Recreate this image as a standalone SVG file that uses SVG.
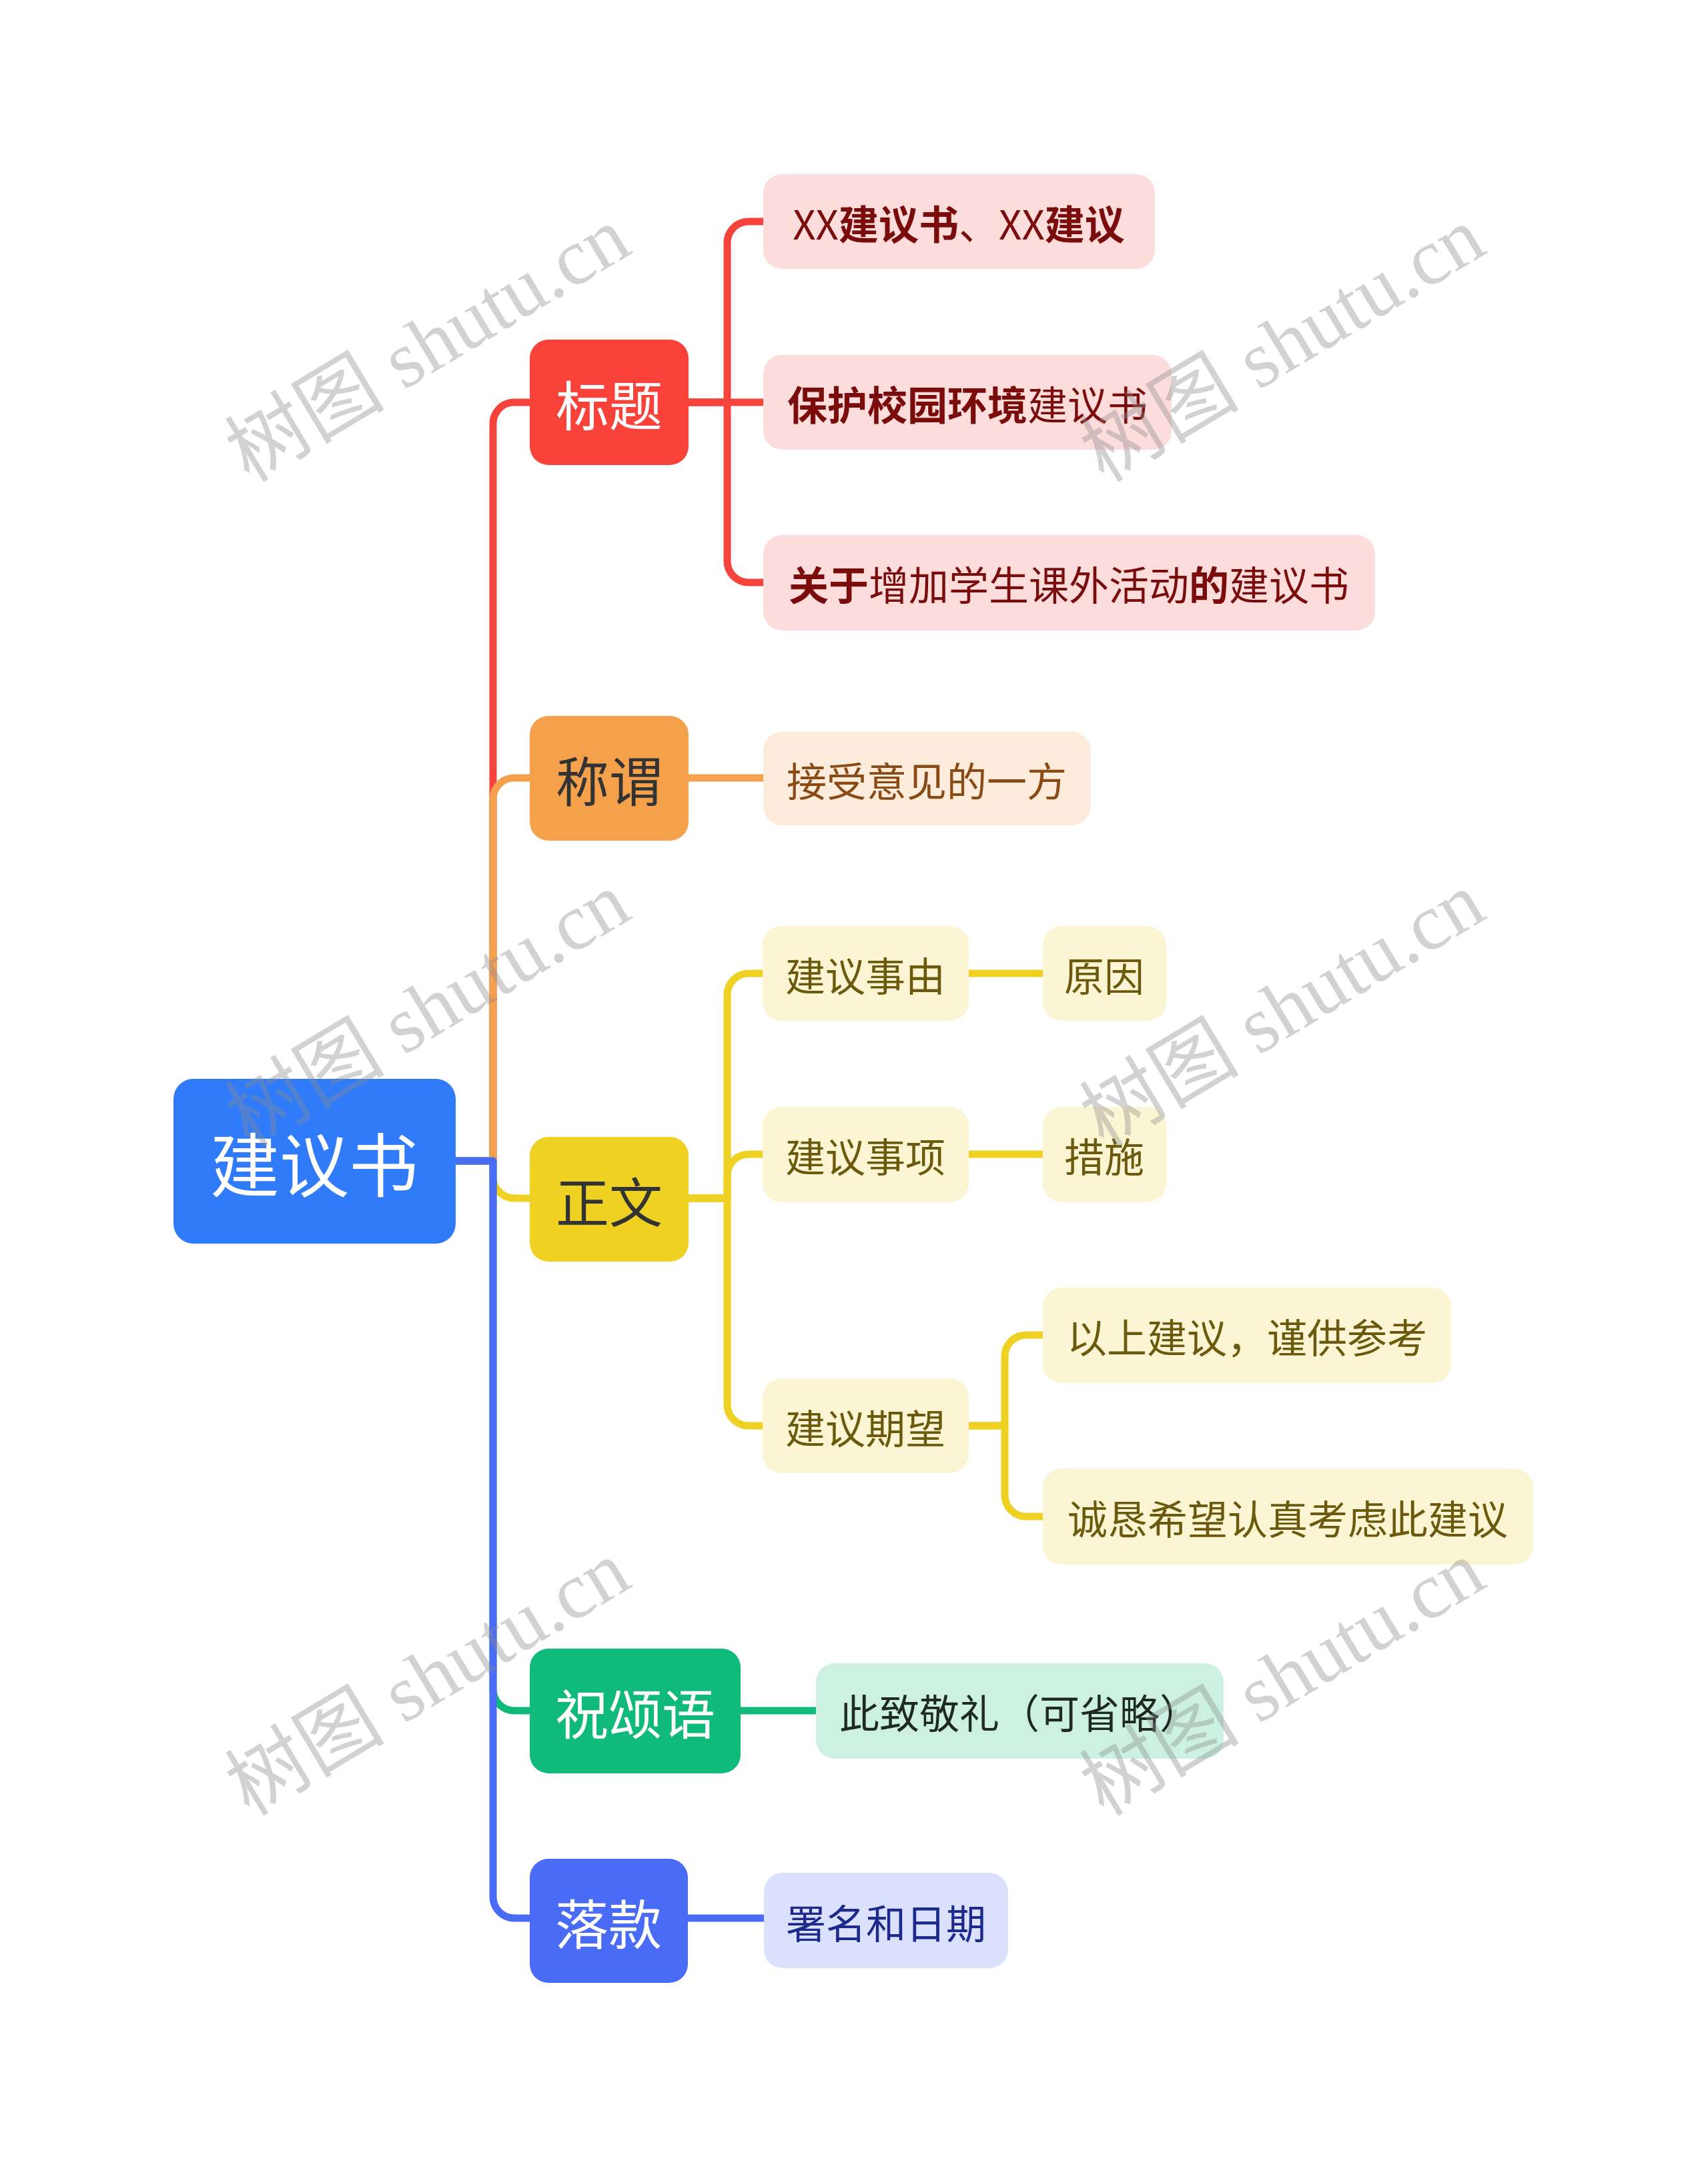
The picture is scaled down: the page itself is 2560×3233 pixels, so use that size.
<svg xmlns="http://www.w3.org/2000/svg" width="2560" height="3233" viewBox="0 0 2560 3233">
<style>
text{font-family:"Noto Sans CJK SC","Noto Sans",sans-serif;text-anchor:middle;dominant-baseline:central}
.l1{font-size:80px}
.l2{font-size:60px}
.b{font-weight:bold}
.ln{fill:none;stroke-width:11;stroke-linejoin:round}
.wm{font-family:"Liberation Serif","Noto Sans CJK SC",serif;font-size:120px;fill:#8c8c8c;opacity:0.38;text-anchor:middle;dominant-baseline:alphabetic}
</style>
<rect width="2560" height="3233" fill="#ffffff"/>
<g id="connectors">
<path class="ln" stroke="#F6433B" d="M683,1740 H739 V635 A32,32 0 0 1 771,603 H794"/>
<path class="ln" stroke="#F4A04D" d="M683,1740 H739 V1198 A32,32 0 0 1 771,1166 H794"/>
<path class="ln" stroke="#EFD124" d="M683,1740 H739 V1764 A32,32 0 0 0 771,1796 H794"/>
<path class="ln" stroke="#10BA7B" d="M683,1740 H739 V2532 A32,32 0 0 0 771,2564 H794"/>
<path class="ln" stroke="#4A6BF5" d="M683,1740 H739 V2843 A32,32 0 0 0 771,2875 H794"/>
<path class="ln" stroke="#F6433B" d="M1032,603 H1090 V364 A32,32 0 0 1 1122,332 H1144"/>
<path class="ln" stroke="#F6433B" d="M1032,603 H1144"/>
<path class="ln" stroke="#F6433B" d="M1032,603 H1090 V841 A32,32 0 0 0 1122,873 H1144"/>
<path class="ln" stroke="#F4A04D" d="M1032,1166 H1144"/>
<path class="ln" stroke="#EFD124" d="M1032,1796 H1090 V1491 A32,32 0 0 1 1122,1459 H1144"/>
<path class="ln" stroke="#EFD124" d="M1032,1796 H1090 V1762 A32,32 0 0 1 1122,1730 H1144"/>
<path class="ln" stroke="#EFD124" d="M1032,1796 H1090 V2105 A32,32 0 0 0 1122,2137 H1144"/>
<path class="ln" stroke="#EFD124" d="M1452,1459 H1563"/>
<path class="ln" stroke="#EFD124" d="M1452,1730 H1563"/>
<path class="ln" stroke="#EFD124" d="M1452,2137 H1506 V2033 A32,32 0 0 1 1538,2001 H1563"/>
<path class="ln" stroke="#EFD124" d="M1452,2137 H1506 V2241 A32,32 0 0 0 1538,2273 H1563"/>
<path class="ln" stroke="#10BA7B" d="M1110,2564 H1223"/>
<path class="ln" stroke="#4A6BF5" d="M1031,2875 H1145"/>
</g>
<g id="root">
<rect x="260" y="1617" width="423" height="247" rx="30" fill="#2F7BFA"/>
<text x="471" y="1740" font-size="104" fill="#ffffff">建议书</text>
</g>
<g id="biaoti">
<rect x="794" y="509" width="238" height="188" rx="28" fill="#F8423A"/>
<text class="l1" x="913" y="603" fill="#ffffff">标题</text>
</g>
<g id="t1">
<rect x="1144" y="261" width="587" height="142" rx="28" fill="#FDDCDC"/>
<text class="l2" x="1437" y="332" fill="#7B0C0C">XX<tspan class="b">建议书</tspan>、XX<tspan class="b">建议</tspan></text>
</g>
<g id="t2">
<rect x="1144" y="532" width="612" height="142" rx="28" fill="#FDDCDC"/>
<text class="l2" x="1450" y="603" fill="#7B0C0C"><tspan class="b">保护校园环境</tspan>建议书</text>
</g>
<g id="t3">
<rect x="1144" y="802" width="917" height="143" rx="28" fill="#FDDCDC"/>
<text class="l2" x="1602" y="873" fill="#7B0C0C"><tspan class="b">关于</tspan>增加学生课外活动<tspan class="b">的</tspan>建议书</text>
</g>
<g id="chengwei">
<rect x="794" y="1073" width="238" height="187" rx="28" fill="#F5A04B"/>
<text class="l1" x="913" y="1166" fill="#333333">称谓</text>
</g>
<g id="c1">
<rect x="1144" y="1097" width="491" height="140" rx="28" fill="#FDEBDC"/>
<text class="l2" x="1389" y="1167" fill="#8A4A14">接受意见的一方</text>
</g>
<g id="zhengwen">
<rect x="794" y="1704" width="238" height="187" rx="28" fill="#EFD124"/>
<text class="l1" x="913" y="1797" fill="#333333">正文</text>
</g>
<g id="z1">
<rect x="1143" y="1388" width="309" height="142" rx="28" fill="#FCF5D4"/>
<text class="l2" x="1297" y="1459" fill="#6B5A0E">建议事由</text>
</g>
<g id="z1a">
<rect x="1563" y="1388" width="185" height="142" rx="28" fill="#FCF5D4"/>
<text class="l2" x="1655" y="1459" fill="#6B5A0E">原因</text>
</g>
<g id="z2">
<rect x="1143" y="1659" width="309" height="143" rx="28" fill="#FCF5D4"/>
<text class="l2" x="1297" y="1730" fill="#6B5A0E">建议事项</text>
</g>
<g id="z2a">
<rect x="1563" y="1659" width="185" height="143" rx="28" fill="#FCF5D4"/>
<text class="l2" x="1655" y="1730" fill="#6B5A0E">措施</text>
</g>
<g id="z3">
<rect x="1143" y="2066" width="309" height="142" rx="28" fill="#FCF5D4"/>
<text class="l2" x="1297" y="2137" fill="#6B5A0E">建议期望</text>
</g>
<g id="z3a">
<rect x="1563" y="1930" width="612" height="143" rx="28" fill="#FCF5D4"/>
<text class="l2" x="1869" y="2001" fill="#6B5A0E">以上建议，谨供参考</text>
</g>
<g id="z3b">
<rect x="1563" y="2201" width="735" height="144" rx="28" fill="#FCF5D4"/>
<text class="l2" x="1930" y="2273" fill="#6B5A0E">诚恳希望认真考虑此建议</text>
</g>
<g id="zhusongyu">
<rect x="794" y="2471" width="316" height="187" rx="28" fill="#10BA7B"/>
<text class="l1" x="952" y="2564" fill="#ffffff">祝颂语</text>
</g>
<g id="s1">
<rect x="1223" y="2493" width="611" height="143" rx="28" fill="#CCF1E2"/>
<text class="l2" x="1528" y="2564" fill="#1F2A25">此致敬礼（可省略）</text>
</g>
<g id="luokuan">
<rect x="794" y="2786" width="237" height="186" rx="28" fill="#4A6BF5"/>
<text class="l1" x="912" y="2879" fill="#ffffff">落款</text>
</g>
<g id="k1">
<rect x="1145" y="2807" width="366" height="143" rx="28" fill="#DBE1FC"/>
<text class="l2" x="1328" y="2879" fill="#1B2A8C">署名和日期</text>
</g>
<g id="watermarks">
<text class="wm" transform="translate(662,551) rotate(-31)">树图 shutu.cn</text>
<text class="wm" transform="translate(1943,551) rotate(-31)">树图 shutu.cn</text>
<text class="wm" transform="translate(662,1548) rotate(-31)">树图 shutu.cn</text>
<text class="wm" transform="translate(1943,1548) rotate(-31)">树图 shutu.cn</text>
<text class="wm" transform="translate(662,2550) rotate(-31)">树图 shutu.cn</text>
<text class="wm" transform="translate(1943,2550) rotate(-31)">树图 shutu.cn</text>
</g>
</svg>
